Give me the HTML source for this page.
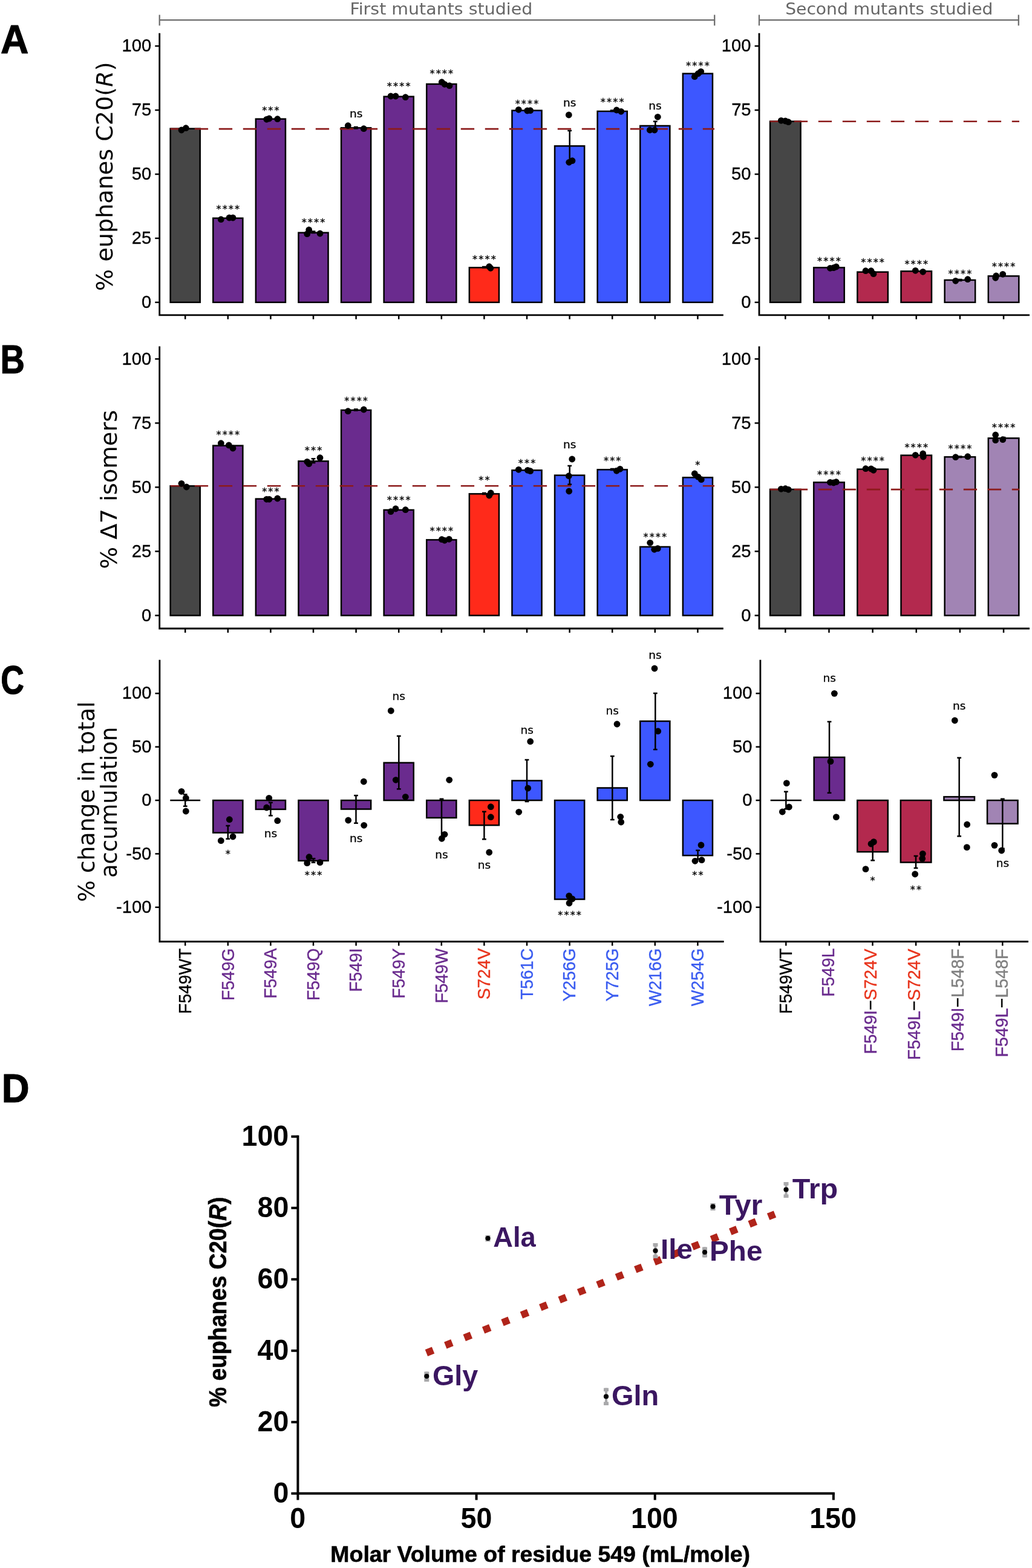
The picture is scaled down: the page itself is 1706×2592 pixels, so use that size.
<!DOCTYPE html>
<html lang="en"><head><meta charset="utf-8"><title>Figure: mutant product profiles</title>
<style>
html,body{margin:0;padding:0;background:#fff;}
body{width:1706px;height:2592px;overflow:hidden;}
svg{display:block;}
text{white-space:pre;}
</style></head>
<body>
<svg width="1706" height="2592" viewBox="0 0 1706 2592">
<rect x="0" y="0" width="1706" height="2592" fill="#fff"/>
<line x1="263.7" y1="33.2" x2="1181.2" y2="33.2" stroke="#6e6e6e" stroke-width="2.3"/>
<line x1="263.7" y1="24.5" x2="263.7" y2="42.3" stroke="#6e6e6e" stroke-width="2.3"/>
<line x1="1181.2" y1="24.5" x2="1181.2" y2="42.3" stroke="#6e6e6e" stroke-width="2.3"/>
<line x1="1255" y1="33.2" x2="1683.8" y2="33.2" stroke="#6e6e6e" stroke-width="2.3"/>
<line x1="1255" y1="24.5" x2="1255" y2="42.3" stroke="#6e6e6e" stroke-width="2.3"/>
<line x1="1683.8" y1="24.5" x2="1683.8" y2="42.3" stroke="#6e6e6e" stroke-width="2.3"/>
<text transform="translate(578.43 24.2) scale(1.0386 1)" font-family='"DejaVu Sans", sans-serif' font-size="27.4" fill="#666">First mutants studied</text>
<text transform="translate(1298.17 24.2) scale(1.0285 1)" font-family='"DejaVu Sans", sans-serif' font-size="27.4" fill="#666">Second mutants studied</text>
<rect x="281.65" y="212.65" width="49.1" height="287.15" fill="#464646" stroke="#000" stroke-width="2.5"/>
<rect x="352.25" y="360.65" width="49.1" height="139.15" fill="#6a2b8e" stroke="#000" stroke-width="2.5"/>
<rect x="422.85" y="196.65" width="49.1" height="303.15" fill="#6a2b8e" stroke="#000" stroke-width="2.5"/>
<rect x="493.45" y="384.65" width="49.1" height="115.15" fill="#6a2b8e" stroke="#000" stroke-width="2.5"/>
<rect x="564.05" y="211.35" width="49.1" height="288.45" fill="#6a2b8e" stroke="#000" stroke-width="2.5"/>
<rect x="634.65" y="159.65" width="49.1" height="340.15" fill="#6a2b8e" stroke="#000" stroke-width="2.5"/>
<rect x="705.25" y="138.95" width="49.1" height="360.85" fill="#6a2b8e" stroke="#000" stroke-width="2.5"/>
<rect x="775.85" y="442.35" width="49.1" height="57.45" fill="#ff2a1a" stroke="#000" stroke-width="2.5"/>
<rect x="846.45" y="182.65" width="49.1" height="317.15" fill="#3d57ff" stroke="#000" stroke-width="2.5"/>
<rect x="917.05" y="241.35" width="49.1" height="258.45" fill="#3d57ff" stroke="#000" stroke-width="2.5"/>
<rect x="987.65" y="183.95" width="49.1" height="315.85" fill="#3d57ff" stroke="#000" stroke-width="2.5"/>
<rect x="1058.25" y="207.95" width="49.1" height="291.85" fill="#3d57ff" stroke="#000" stroke-width="2.5"/>
<rect x="1128.85" y="121.65" width="49.1" height="378.15" fill="#3d57ff" stroke="#000" stroke-width="2.5"/>
<line x1="281.8" y1="213.1" x2="1181" y2="213.1" stroke="#8c1b1b" stroke-width="2.6" stroke-dasharray="22.3 17.7"/>
<line x1="941.7" y1="216" x2="941.7" y2="266" stroke="#000" stroke-width="2.5"/>
<line x1="938.3" y1="216" x2="945.1" y2="216" stroke="#000" stroke-width="2.5"/>
<line x1="938.3" y1="266" x2="945.1" y2="266" stroke="#000" stroke-width="2.5"/>
<line x1="1083.3" y1="200.7" x2="1083.3" y2="214" stroke="#000" stroke-width="2.5"/>
<line x1="1079.9" y1="200.7" x2="1086.7" y2="200.7" stroke="#000" stroke-width="2.5"/>
<line x1="1079.9" y1="214" x2="1086.7" y2="214" stroke="#000" stroke-width="2.5"/>
<line x1="588.3" y1="210" x2="588.3" y2="212.4" stroke="#000" stroke-width="2.5"/>
<line x1="584.9" y1="210" x2="591.7" y2="210" stroke="#000" stroke-width="2.5"/>
<line x1="584.9" y1="212.4" x2="591.7" y2="212.4" stroke="#000" stroke-width="2.5"/>
<line x1="518" y1="382.5" x2="518" y2="385" stroke="#000" stroke-width="2.5"/>
<line x1="514.6" y1="382.5" x2="521.4" y2="382.5" stroke="#000" stroke-width="2.5"/>
<line x1="514.6" y1="385" x2="521.4" y2="385" stroke="#000" stroke-width="2.5"/>
<line x1="800.4" y1="441" x2="800.4" y2="442.5" stroke="#000" stroke-width="2.5"/>
<line x1="797" y1="441" x2="803.8" y2="441" stroke="#000" stroke-width="2.5"/>
<line x1="797" y1="442.5" x2="803.8" y2="442.5" stroke="#000" stroke-width="2.5"/>
<line x1="1012.2" y1="182.5" x2="1012.2" y2="184" stroke="#000" stroke-width="2.5"/>
<line x1="1008.8" y1="182.5" x2="1015.6" y2="182.5" stroke="#000" stroke-width="2.5"/>
<line x1="1008.8" y1="184" x2="1015.6" y2="184" stroke="#000" stroke-width="2.5"/>
<circle cx="300" cy="215" r="5.4" fill="#000"/>
<circle cx="307.3" cy="211.7" r="5.4" fill="#000"/>
<circle cx="365.3" cy="362.7" r="5.4" fill="#000"/>
<circle cx="379" cy="360" r="5.4" fill="#000"/>
<circle cx="385" cy="360" r="5.4" fill="#000"/>
<circle cx="440.7" cy="197.3" r="5.4" fill="#000"/>
<circle cx="445" cy="196" r="5.4" fill="#000"/>
<circle cx="458.7" cy="196.7" r="5.4" fill="#000"/>
<circle cx="507.7" cy="386.7" r="5.4" fill="#000"/>
<circle cx="510.7" cy="380" r="5.4" fill="#000"/>
<circle cx="529" cy="386" r="5.4" fill="#000"/>
<circle cx="575.3" cy="207.7" r="5.4" fill="#000"/>
<circle cx="601.3" cy="212.7" r="5.4" fill="#000"/>
<circle cx="646" cy="159" r="5.4" fill="#000"/>
<circle cx="654" cy="159" r="5.4" fill="#000"/>
<circle cx="670.3" cy="160.7" r="5.4" fill="#000"/>
<circle cx="730.3" cy="135.7" r="5.4" fill="#000"/>
<circle cx="735" cy="139.3" r="5.4" fill="#000"/>
<circle cx="743" cy="141.7" r="5.4" fill="#000"/>
<circle cx="808.7" cy="440.7" r="5.4" fill="#000"/>
<circle cx="811" cy="443.3" r="5.4" fill="#000"/>
<circle cx="857.3" cy="181.3" r="5.4" fill="#000"/>
<circle cx="871.7" cy="183" r="5.4" fill="#000"/>
<circle cx="876.7" cy="182.7" r="5.4" fill="#000"/>
<circle cx="940.3" cy="190" r="5.4" fill="#000"/>
<circle cx="940.7" cy="268.3" r="5.4" fill="#000"/>
<circle cx="946" cy="265.7" r="5.4" fill="#000"/>
<circle cx="1019.3" cy="182" r="5.4" fill="#000"/>
<circle cx="1026.7" cy="184.3" r="5.4" fill="#000"/>
<circle cx="1074.3" cy="215" r="5.4" fill="#000"/>
<circle cx="1082" cy="215" r="5.4" fill="#000"/>
<circle cx="1087.3" cy="193.3" r="5.4" fill="#000"/>
<circle cx="1148.3" cy="126.7" r="5.4" fill="#000"/>
<circle cx="1154" cy="121.7" r="5.4" fill="#000"/>
<circle cx="1158.7" cy="118.3" r="5.4" fill="#000"/>
<text x="357.45 367.65 377.85 388.05" y="351.04" font-family='"DejaVu Sans", sans-serif' font-size="16.2" fill="#000" stroke="#000" stroke-width="0.35">****</text>
<text x="433.15 443.35 453.55" y="188.34" font-family='"DejaVu Sans", sans-serif' font-size="16.2" fill="#000" stroke="#000" stroke-width="0.35">***</text>
<text x="498.65 508.85 519.05 529.25" y="373.34" font-family='"DejaVu Sans", sans-serif' font-size="16.2" fill="#000" stroke="#000" stroke-width="0.35">****</text>
<text transform="translate(578.02 194.3) scale(1.0000 1)" font-family='"DejaVu Sans", sans-serif' font-size="18.5" fill="#000" stroke="#000" stroke-width="0.3">ns</text>
<text x="639.85 650.05 660.25 670.45" y="148.34" font-family='"DejaVu Sans", sans-serif' font-size="16.2" fill="#000" stroke="#000" stroke-width="0.35">****</text>
<text x="710.45 720.65 730.85 741.05" y="127.34" font-family='"DejaVu Sans", sans-serif' font-size="16.2" fill="#000" stroke="#000" stroke-width="0.35">****</text>
<text x="781.05 791.25 801.45 811.65" y="434.04" font-family='"DejaVu Sans", sans-serif' font-size="16.2" fill="#000" stroke="#000" stroke-width="0.35">****</text>
<text x="851.65 861.85 872.05 882.25" y="176.64" font-family='"DejaVu Sans", sans-serif' font-size="16.2" fill="#000" stroke="#000" stroke-width="0.35">****</text>
<text transform="translate(931.02 176) scale(1.0000 1)" font-family='"DejaVu Sans", sans-serif' font-size="18.5" fill="#000" stroke="#000" stroke-width="0.3">ns</text>
<text x="992.85 1003.05 1013.25 1023.45" y="174.04" font-family='"DejaVu Sans", sans-serif' font-size="16.2" fill="#000" stroke="#000" stroke-width="0.35">****</text>
<text transform="translate(1072.22 181) scale(1.0000 1)" font-family='"DejaVu Sans", sans-serif' font-size="18.5" fill="#000" stroke="#000" stroke-width="0.3">ns</text>
<text x="1134.05 1144.25 1154.45 1164.65" y="113.64" font-family='"DejaVu Sans", sans-serif' font-size="16.2" fill="#000" stroke="#000" stroke-width="0.35">****</text>
<polyline points="263.7,54.8 263.7,520.8 1195.8,520.8" fill="none" stroke="#000" stroke-width="2.8" stroke-linejoin="miter"/>
<line x1="256.3" y1="76.1" x2="263.7" y2="76.1" stroke="#000" stroke-width="2.5"/>
<text transform="translate(201.57 85.3) scale(1.0000 1)" font-family='"Liberation Sans", sans-serif' font-size="29.1" fill="#000" stroke="#000" stroke-width="0.35">100</text>
<line x1="256.3" y1="182.02" x2="263.7" y2="182.02" stroke="#000" stroke-width="2.5"/>
<text transform="translate(217.86 191.23) scale(1.0000 1)" font-family='"Liberation Sans", sans-serif' font-size="29.1" fill="#000" stroke="#000" stroke-width="0.35">75</text>
<line x1="256.3" y1="287.95" x2="263.7" y2="287.95" stroke="#000" stroke-width="2.5"/>
<text transform="translate(217.79 297.15) scale(1.0000 1)" font-family='"Liberation Sans", sans-serif' font-size="29.1" fill="#000" stroke="#000" stroke-width="0.35">50</text>
<line x1="256.3" y1="393.88" x2="263.7" y2="393.88" stroke="#000" stroke-width="2.5"/>
<text transform="translate(217.86 403.08) scale(1.0000 1)" font-family='"Liberation Sans", sans-serif' font-size="29.1" fill="#000" stroke="#000" stroke-width="0.35">25</text>
<line x1="256.3" y1="499.8" x2="263.7" y2="499.8" stroke="#000" stroke-width="2.5"/>
<text transform="translate(233.94 509) scale(1.0000 1)" font-family='"Liberation Sans", sans-serif' font-size="29.1" fill="#000" stroke="#000" stroke-width="0.35">0</text>
<line x1="306.2" y1="520.8" x2="306.2" y2="527.7" stroke="#000" stroke-width="2.5"/>
<line x1="376.8" y1="520.8" x2="376.8" y2="527.7" stroke="#000" stroke-width="2.5"/>
<line x1="447.4" y1="520.8" x2="447.4" y2="527.7" stroke="#000" stroke-width="2.5"/>
<line x1="518" y1="520.8" x2="518" y2="527.7" stroke="#000" stroke-width="2.5"/>
<line x1="588.6" y1="520.8" x2="588.6" y2="527.7" stroke="#000" stroke-width="2.5"/>
<line x1="659.2" y1="520.8" x2="659.2" y2="527.7" stroke="#000" stroke-width="2.5"/>
<line x1="729.8" y1="520.8" x2="729.8" y2="527.7" stroke="#000" stroke-width="2.5"/>
<line x1="800.4" y1="520.8" x2="800.4" y2="527.7" stroke="#000" stroke-width="2.5"/>
<line x1="871" y1="520.8" x2="871" y2="527.7" stroke="#000" stroke-width="2.5"/>
<line x1="941.6" y1="520.8" x2="941.6" y2="527.7" stroke="#000" stroke-width="2.5"/>
<line x1="1012.2" y1="520.8" x2="1012.2" y2="527.7" stroke="#000" stroke-width="2.5"/>
<line x1="1082.8" y1="520.8" x2="1082.8" y2="527.7" stroke="#000" stroke-width="2.5"/>
<line x1="1153.4" y1="520.8" x2="1153.4" y2="527.7" stroke="#000" stroke-width="2.5"/>
<rect x="1273.05" y="200.65" width="50.5" height="299.15" fill="#464646" stroke="#000" stroke-width="2.5"/>
<rect x="1345.2" y="442.35" width="50.5" height="57.45" fill="#6a2b8e" stroke="#000" stroke-width="2.5"/>
<rect x="1417.35" y="449.65" width="50.5" height="50.15" fill="#b3294e" stroke="#000" stroke-width="2.5"/>
<rect x="1489.5" y="448.35" width="50.5" height="51.45" fill="#b3294e" stroke="#000" stroke-width="2.5"/>
<rect x="1561.65" y="462.95" width="50.5" height="36.85" fill="#a184b4" stroke="#000" stroke-width="2.5"/>
<rect x="1633.8" y="456.35" width="50.5" height="43.45" fill="#a184b4" stroke="#000" stroke-width="2.5"/>
<line x1="1272.8" y1="200.8" x2="1685" y2="200.8" stroke="#8c1b1b" stroke-width="2.6" stroke-dasharray="22.3 17.7"/>
<line x1="1587.1" y1="462" x2="1587.1" y2="464" stroke="#000" stroke-width="2.5"/>
<line x1="1583.7" y1="462" x2="1590.5" y2="462" stroke="#000" stroke-width="2.5"/>
<line x1="1583.7" y1="464" x2="1590.5" y2="464" stroke="#000" stroke-width="2.5"/>
<circle cx="1291.3" cy="199.3" r="5.4" fill="#000"/>
<circle cx="1298.3" cy="200" r="5.4" fill="#000"/>
<circle cx="1303.3" cy="201.7" r="5.4" fill="#000"/>
<circle cx="1372.3" cy="443.3" r="5.4" fill="#000"/>
<circle cx="1378" cy="442.7" r="5.4" fill="#000"/>
<circle cx="1382.3" cy="441" r="5.4" fill="#000"/>
<circle cx="1431" cy="447.7" r="5.4" fill="#000"/>
<circle cx="1440" cy="447.7" r="5.4" fill="#000"/>
<circle cx="1444" cy="452.7" r="5.4" fill="#000"/>
<circle cx="1513.3" cy="447.3" r="5.4" fill="#000"/>
<circle cx="1525.7" cy="449.3" r="5.4" fill="#000"/>
<circle cx="1579.7" cy="464.3" r="5.4" fill="#000"/>
<circle cx="1599.7" cy="461.7" r="5.4" fill="#000"/>
<circle cx="1645.7" cy="459.3" r="5.4" fill="#000"/>
<circle cx="1646.7" cy="456" r="5.4" fill="#000"/>
<circle cx="1657.7" cy="453.3" r="5.4" fill="#000"/>
<text x="1351.1 1361.3 1371.5 1381.7" y="436.64" font-family='"DejaVu Sans", sans-serif' font-size="16.2" fill="#000" stroke="#000" stroke-width="0.35">****</text>
<text x="1423.25 1433.45 1443.65 1453.85" y="439.34" font-family='"DejaVu Sans", sans-serif' font-size="16.2" fill="#000" stroke="#000" stroke-width="0.35">****</text>
<text x="1495.4 1505.6 1515.8 1526" y="441.64" font-family='"DejaVu Sans", sans-serif' font-size="16.2" fill="#000" stroke="#000" stroke-width="0.35">****</text>
<text x="1567.55 1577.75 1587.95 1598.15" y="457.64" font-family='"DejaVu Sans", sans-serif' font-size="16.2" fill="#000" stroke="#000" stroke-width="0.35">****</text>
<text x="1639.7 1649.9 1660.1 1670.3" y="446.04" font-family='"DejaVu Sans", sans-serif' font-size="16.2" fill="#000" stroke="#000" stroke-width="0.35">****</text>
<polyline points="1255,54.8 1255,520.8 1702,520.8" fill="none" stroke="#000" stroke-width="2.8" stroke-linejoin="miter"/>
<line x1="1247.6" y1="76.1" x2="1255" y2="76.1" stroke="#000" stroke-width="2.5"/>
<text transform="translate(1192.87 85.3) scale(1.0000 1)" font-family='"Liberation Sans", sans-serif' font-size="29.1" fill="#000" stroke="#000" stroke-width="0.35">100</text>
<line x1="1247.6" y1="182.02" x2="1255" y2="182.02" stroke="#000" stroke-width="2.5"/>
<text transform="translate(1209.16 191.23) scale(1.0000 1)" font-family='"Liberation Sans", sans-serif' font-size="29.1" fill="#000" stroke="#000" stroke-width="0.35">75</text>
<line x1="1247.6" y1="287.95" x2="1255" y2="287.95" stroke="#000" stroke-width="2.5"/>
<text transform="translate(1209.09 297.15) scale(1.0000 1)" font-family='"Liberation Sans", sans-serif' font-size="29.1" fill="#000" stroke="#000" stroke-width="0.35">50</text>
<line x1="1247.6" y1="393.88" x2="1255" y2="393.88" stroke="#000" stroke-width="2.5"/>
<text transform="translate(1209.16 403.08) scale(1.0000 1)" font-family='"Liberation Sans", sans-serif' font-size="29.1" fill="#000" stroke="#000" stroke-width="0.35">25</text>
<line x1="1247.6" y1="499.8" x2="1255" y2="499.8" stroke="#000" stroke-width="2.5"/>
<text transform="translate(1225.24 509) scale(1.0000 1)" font-family='"Liberation Sans", sans-serif' font-size="29.1" fill="#000" stroke="#000" stroke-width="0.35">0</text>
<line x1="1298.3" y1="520.8" x2="1298.3" y2="527.7" stroke="#000" stroke-width="2.5"/>
<line x1="1370.45" y1="520.8" x2="1370.45" y2="527.7" stroke="#000" stroke-width="2.5"/>
<line x1="1442.6" y1="520.8" x2="1442.6" y2="527.7" stroke="#000" stroke-width="2.5"/>
<line x1="1514.75" y1="520.8" x2="1514.75" y2="527.7" stroke="#000" stroke-width="2.5"/>
<line x1="1586.9" y1="520.8" x2="1586.9" y2="527.7" stroke="#000" stroke-width="2.5"/>
<line x1="1659.05" y1="520.8" x2="1659.05" y2="527.7" stroke="#000" stroke-width="2.5"/>
<rect x="281.65" y="803.35" width="49.1" height="214.05" fill="#464646" stroke="#000" stroke-width="2.5"/>
<rect x="352.25" y="736.65" width="49.1" height="280.75" fill="#6a2b8e" stroke="#000" stroke-width="2.5"/>
<rect x="422.85" y="824.65" width="49.1" height="192.75" fill="#6a2b8e" stroke="#000" stroke-width="2.5"/>
<rect x="493.45" y="762.35" width="49.1" height="255.05" fill="#6a2b8e" stroke="#000" stroke-width="2.5"/>
<rect x="564.05" y="677.95" width="49.1" height="339.45" fill="#6a2b8e" stroke="#000" stroke-width="2.5"/>
<rect x="634.65" y="842.95" width="49.1" height="174.45" fill="#6a2b8e" stroke="#000" stroke-width="2.5"/>
<rect x="705.25" y="892.35" width="49.1" height="125.05" fill="#6a2b8e" stroke="#000" stroke-width="2.5"/>
<rect x="775.85" y="816.35" width="49.1" height="201.05" fill="#ff2a1a" stroke="#000" stroke-width="2.5"/>
<rect x="846.45" y="777.35" width="49.1" height="240.05" fill="#3d57ff" stroke="#000" stroke-width="2.5"/>
<rect x="917.05" y="785.65" width="49.1" height="231.75" fill="#3d57ff" stroke="#000" stroke-width="2.5"/>
<rect x="987.65" y="776.35" width="49.1" height="241.05" fill="#3d57ff" stroke="#000" stroke-width="2.5"/>
<rect x="1058.25" y="903.95" width="49.1" height="113.45" fill="#3d57ff" stroke="#000" stroke-width="2.5"/>
<rect x="1128.85" y="789.35" width="49.1" height="228.05" fill="#3d57ff" stroke="#000" stroke-width="2.5"/>
<line x1="281.8" y1="803.2" x2="1181" y2="803.2" stroke="#8c1b1b" stroke-width="2.6" stroke-dasharray="22.3 17.7"/>
<line x1="941.7" y1="770" x2="941.7" y2="800.7" stroke="#000" stroke-width="2.5"/>
<line x1="938.3" y1="770" x2="945.1" y2="770" stroke="#000" stroke-width="2.5"/>
<line x1="938.3" y1="800.7" x2="945.1" y2="800.7" stroke="#000" stroke-width="2.5"/>
<line x1="518" y1="758.3" x2="518" y2="765" stroke="#000" stroke-width="2.5"/>
<line x1="514.6" y1="758.3" x2="521.4" y2="758.3" stroke="#000" stroke-width="2.5"/>
<line x1="514.6" y1="765" x2="521.4" y2="765" stroke="#000" stroke-width="2.5"/>
<line x1="588.3" y1="676.5" x2="588.3" y2="678.5" stroke="#000" stroke-width="2.5"/>
<line x1="584.9" y1="676.5" x2="591.7" y2="676.5" stroke="#000" stroke-width="2.5"/>
<line x1="584.9" y1="678.5" x2="591.7" y2="678.5" stroke="#000" stroke-width="2.5"/>
<line x1="800.4" y1="815" x2="800.4" y2="817" stroke="#000" stroke-width="2.5"/>
<line x1="797" y1="815" x2="803.8" y2="815" stroke="#000" stroke-width="2.5"/>
<line x1="797" y1="817" x2="803.8" y2="817" stroke="#000" stroke-width="2.5"/>
<line x1="1012.2" y1="775" x2="1012.2" y2="777" stroke="#000" stroke-width="2.5"/>
<line x1="1008.8" y1="775" x2="1015.6" y2="775" stroke="#000" stroke-width="2.5"/>
<line x1="1008.8" y1="777" x2="1015.6" y2="777" stroke="#000" stroke-width="2.5"/>
<line x1="1153.4" y1="786" x2="1153.4" y2="791" stroke="#000" stroke-width="2.5"/>
<line x1="1150" y1="786" x2="1156.8" y2="786" stroke="#000" stroke-width="2.5"/>
<line x1="1150" y1="791" x2="1156.8" y2="791" stroke="#000" stroke-width="2.5"/>
<circle cx="300" cy="799.3" r="5.4" fill="#000"/>
<circle cx="308.3" cy="805" r="5.4" fill="#000"/>
<circle cx="365.3" cy="732.7" r="5.4" fill="#000"/>
<circle cx="378.3" cy="736" r="5.4" fill="#000"/>
<circle cx="385" cy="741" r="5.4" fill="#000"/>
<circle cx="440.7" cy="825.3" r="5.4" fill="#000"/>
<circle cx="445" cy="825.3" r="5.4" fill="#000"/>
<circle cx="458.7" cy="824" r="5.4" fill="#000"/>
<circle cx="507.7" cy="763.3" r="5.4" fill="#000"/>
<circle cx="510.7" cy="766.7" r="5.4" fill="#000"/>
<circle cx="529" cy="756.7" r="5.4" fill="#000"/>
<circle cx="575.3" cy="679.7" r="5.4" fill="#000"/>
<circle cx="601.3" cy="677" r="5.4" fill="#000"/>
<circle cx="646" cy="845.7" r="5.4" fill="#000"/>
<circle cx="654" cy="841" r="5.4" fill="#000"/>
<circle cx="670.3" cy="842.7" r="5.4" fill="#000"/>
<circle cx="730.3" cy="891.7" r="5.4" fill="#000"/>
<circle cx="735" cy="893.3" r="5.4" fill="#000"/>
<circle cx="742.3" cy="891.3" r="5.4" fill="#000"/>
<circle cx="808.7" cy="819" r="5.4" fill="#000"/>
<circle cx="811.3" cy="815" r="5.4" fill="#000"/>
<circle cx="857.3" cy="776.3" r="5.4" fill="#000"/>
<circle cx="872.3" cy="777.3" r="5.4" fill="#000"/>
<circle cx="876.7" cy="778.7" r="5.4" fill="#000"/>
<circle cx="945.7" cy="759" r="5.4" fill="#000"/>
<circle cx="940.3" cy="786.7" r="5.4" fill="#000"/>
<circle cx="940.7" cy="812" r="5.4" fill="#000"/>
<circle cx="1019.3" cy="778.3" r="5.4" fill="#000"/>
<circle cx="1025" cy="775.3" r="5.4" fill="#000"/>
<circle cx="1074.7" cy="897.3" r="5.4" fill="#000"/>
<circle cx="1081.7" cy="908.3" r="5.4" fill="#000"/>
<circle cx="1087.3" cy="906.7" r="5.4" fill="#000"/>
<circle cx="1148.3" cy="783" r="5.4" fill="#000"/>
<circle cx="1154" cy="788.3" r="5.4" fill="#000"/>
<circle cx="1159.3" cy="792.7" r="5.4" fill="#000"/>
<text x="357.45 367.65 377.85 388.05" y="724.34" font-family='"DejaVu Sans", sans-serif' font-size="16.2" fill="#000" stroke="#000" stroke-width="0.35">****</text>
<text x="433.15 443.35 453.55" y="818.34" font-family='"DejaVu Sans", sans-serif' font-size="16.2" fill="#000" stroke="#000" stroke-width="0.35">***</text>
<text x="503.75 513.95 524.15" y="750.04" font-family='"DejaVu Sans", sans-serif' font-size="16.2" fill="#000" stroke="#000" stroke-width="0.35">***</text>
<text x="569.25 579.45 589.65 599.85" y="668.34" font-family='"DejaVu Sans", sans-serif' font-size="16.2" fill="#000" stroke="#000" stroke-width="0.35">****</text>
<text x="639.85 650.05 660.25 670.45" y="832.34" font-family='"DejaVu Sans", sans-serif' font-size="16.2" fill="#000" stroke="#000" stroke-width="0.35">****</text>
<text x="710.45 720.65 730.85 741.05" y="883.34" font-family='"DejaVu Sans", sans-serif' font-size="16.2" fill="#000" stroke="#000" stroke-width="0.35">****</text>
<text x="791.25 801.45" y="799.34" font-family='"DejaVu Sans", sans-serif' font-size="16.2" fill="#000" stroke="#000" stroke-width="0.35">**</text>
<text x="856.75 866.95 877.15" y="771.04" font-family='"DejaVu Sans", sans-serif' font-size="16.2" fill="#000" stroke="#000" stroke-width="0.35">***</text>
<text transform="translate(931.02 741) scale(1.0000 1)" font-family='"DejaVu Sans", sans-serif' font-size="18.5" fill="#000" stroke="#000" stroke-width="0.3">ns</text>
<text x="997.95 1008.15 1018.35" y="767.34" font-family='"DejaVu Sans", sans-serif' font-size="16.2" fill="#000" stroke="#000" stroke-width="0.35">***</text>
<text x="1063.45 1073.65 1083.85 1094.05" y="893.34" font-family='"DejaVu Sans", sans-serif' font-size="16.2" fill="#000" stroke="#000" stroke-width="0.35">****</text>
<text x="1149.35" y="774.34" font-family='"DejaVu Sans", sans-serif' font-size="16.2" fill="#000" stroke="#000" stroke-width="0.35">*</text>
<polyline points="263.7,572.6 263.7,1039 1195.8,1039" fill="none" stroke="#000" stroke-width="2.8" stroke-linejoin="miter"/>
<line x1="256.3" y1="593.4" x2="263.7" y2="593.4" stroke="#000" stroke-width="2.5"/>
<text transform="translate(201.57 602.6) scale(1.0000 1)" font-family='"Liberation Sans", sans-serif' font-size="29.1" fill="#000" stroke="#000" stroke-width="0.35">100</text>
<line x1="256.3" y1="699.4" x2="263.7" y2="699.4" stroke="#000" stroke-width="2.5"/>
<text transform="translate(217.86 708.6) scale(1.0000 1)" font-family='"Liberation Sans", sans-serif' font-size="29.1" fill="#000" stroke="#000" stroke-width="0.35">75</text>
<line x1="256.3" y1="805.4" x2="263.7" y2="805.4" stroke="#000" stroke-width="2.5"/>
<text transform="translate(217.79 814.6) scale(1.0000 1)" font-family='"Liberation Sans", sans-serif' font-size="29.1" fill="#000" stroke="#000" stroke-width="0.35">50</text>
<line x1="256.3" y1="911.4" x2="263.7" y2="911.4" stroke="#000" stroke-width="2.5"/>
<text transform="translate(217.86 920.6) scale(1.0000 1)" font-family='"Liberation Sans", sans-serif' font-size="29.1" fill="#000" stroke="#000" stroke-width="0.35">25</text>
<line x1="256.3" y1="1017.4" x2="263.7" y2="1017.4" stroke="#000" stroke-width="2.5"/>
<text transform="translate(233.94 1026.6) scale(1.0000 1)" font-family='"Liberation Sans", sans-serif' font-size="29.1" fill="#000" stroke="#000" stroke-width="0.35">0</text>
<line x1="306.2" y1="1039" x2="306.2" y2="1045.9" stroke="#000" stroke-width="2.5"/>
<line x1="376.8" y1="1039" x2="376.8" y2="1045.9" stroke="#000" stroke-width="2.5"/>
<line x1="447.4" y1="1039" x2="447.4" y2="1045.9" stroke="#000" stroke-width="2.5"/>
<line x1="518" y1="1039" x2="518" y2="1045.9" stroke="#000" stroke-width="2.5"/>
<line x1="588.6" y1="1039" x2="588.6" y2="1045.9" stroke="#000" stroke-width="2.5"/>
<line x1="659.2" y1="1039" x2="659.2" y2="1045.9" stroke="#000" stroke-width="2.5"/>
<line x1="729.8" y1="1039" x2="729.8" y2="1045.9" stroke="#000" stroke-width="2.5"/>
<line x1="800.4" y1="1039" x2="800.4" y2="1045.9" stroke="#000" stroke-width="2.5"/>
<line x1="871" y1="1039" x2="871" y2="1045.9" stroke="#000" stroke-width="2.5"/>
<line x1="941.6" y1="1039" x2="941.6" y2="1045.9" stroke="#000" stroke-width="2.5"/>
<line x1="1012.2" y1="1039" x2="1012.2" y2="1045.9" stroke="#000" stroke-width="2.5"/>
<line x1="1082.8" y1="1039" x2="1082.8" y2="1045.9" stroke="#000" stroke-width="2.5"/>
<line x1="1153.4" y1="1039" x2="1153.4" y2="1045.9" stroke="#000" stroke-width="2.5"/>
<rect x="1273.05" y="808.95" width="50.5" height="208.45" fill="#464646" stroke="#000" stroke-width="2.5"/>
<rect x="1345.2" y="797.35" width="50.5" height="220.05" fill="#6a2b8e" stroke="#000" stroke-width="2.5"/>
<rect x="1417.35" y="775.65" width="50.5" height="241.75" fill="#b3294e" stroke="#000" stroke-width="2.5"/>
<rect x="1489.5" y="752.65" width="50.5" height="264.75" fill="#b3294e" stroke="#000" stroke-width="2.5"/>
<rect x="1561.65" y="755.35" width="50.5" height="262.05" fill="#a184b4" stroke="#000" stroke-width="2.5"/>
<rect x="1633.8" y="724.35" width="50.5" height="293.05" fill="#a184b4" stroke="#000" stroke-width="2.5"/>
<line x1="1272.8" y1="809.1" x2="1685" y2="809.1" stroke="#8c1b1b" stroke-width="2.6" stroke-dasharray="22.3 17.7"/>
<line x1="1587.1" y1="754.5" x2="1587.1" y2="756" stroke="#000" stroke-width="2.5"/>
<line x1="1583.7" y1="754.5" x2="1590.5" y2="754.5" stroke="#000" stroke-width="2.5"/>
<line x1="1583.7" y1="756" x2="1590.5" y2="756" stroke="#000" stroke-width="2.5"/>
<line x1="1659" y1="723" x2="1659" y2="727" stroke="#000" stroke-width="2.5"/>
<line x1="1655.6" y1="723" x2="1662.4" y2="723" stroke="#000" stroke-width="2.5"/>
<line x1="1655.6" y1="727" x2="1662.4" y2="727" stroke="#000" stroke-width="2.5"/>
<circle cx="1291.3" cy="808.3" r="5.4" fill="#000"/>
<circle cx="1298.3" cy="807.7" r="5.4" fill="#000"/>
<circle cx="1303.3" cy="809.3" r="5.4" fill="#000"/>
<circle cx="1372.3" cy="797.3" r="5.4" fill="#000"/>
<circle cx="1378" cy="798" r="5.4" fill="#000"/>
<circle cx="1382.3" cy="796.7" r="5.4" fill="#000"/>
<circle cx="1431" cy="774.7" r="5.4" fill="#000"/>
<circle cx="1440" cy="775" r="5.4" fill="#000"/>
<circle cx="1444" cy="777.3" r="5.4" fill="#000"/>
<circle cx="1513.3" cy="752.3" r="5.4" fill="#000"/>
<circle cx="1525.7" cy="750" r="5.4" fill="#000"/>
<circle cx="1526.3" cy="755" r="5.4" fill="#000"/>
<circle cx="1579.7" cy="755.7" r="5.4" fill="#000"/>
<circle cx="1599.7" cy="754.7" r="5.4" fill="#000"/>
<circle cx="1645.7" cy="719" r="5.4" fill="#000"/>
<circle cx="1645.7" cy="727.7" r="5.4" fill="#000"/>
<circle cx="1657.7" cy="726.7" r="5.4" fill="#000"/>
<text x="1351.1 1361.3 1371.5 1381.7" y="790.04" font-family='"DejaVu Sans", sans-serif' font-size="16.2" fill="#000" stroke="#000" stroke-width="0.35">****</text>
<text x="1423.25 1433.45 1443.65 1453.85" y="767.34" font-family='"DejaVu Sans", sans-serif' font-size="16.2" fill="#000" stroke="#000" stroke-width="0.35">****</text>
<text x="1495.4 1505.6 1515.8 1526" y="745.04" font-family='"DejaVu Sans", sans-serif' font-size="16.2" fill="#000" stroke="#000" stroke-width="0.35">****</text>
<text x="1567.55 1577.75 1587.95 1598.15" y="747.34" font-family='"DejaVu Sans", sans-serif' font-size="16.2" fill="#000" stroke="#000" stroke-width="0.35">****</text>
<text x="1639.7 1649.9 1660.1 1670.3" y="711.64" font-family='"DejaVu Sans", sans-serif' font-size="16.2" fill="#000" stroke="#000" stroke-width="0.35">****</text>
<polyline points="1255,572.6 1255,1039 1702,1039" fill="none" stroke="#000" stroke-width="2.8" stroke-linejoin="miter"/>
<line x1="1247.6" y1="593.4" x2="1255" y2="593.4" stroke="#000" stroke-width="2.5"/>
<text transform="translate(1192.87 602.6) scale(1.0000 1)" font-family='"Liberation Sans", sans-serif' font-size="29.1" fill="#000" stroke="#000" stroke-width="0.35">100</text>
<line x1="1247.6" y1="699.4" x2="1255" y2="699.4" stroke="#000" stroke-width="2.5"/>
<text transform="translate(1209.16 708.6) scale(1.0000 1)" font-family='"Liberation Sans", sans-serif' font-size="29.1" fill="#000" stroke="#000" stroke-width="0.35">75</text>
<line x1="1247.6" y1="805.4" x2="1255" y2="805.4" stroke="#000" stroke-width="2.5"/>
<text transform="translate(1209.09 814.6) scale(1.0000 1)" font-family='"Liberation Sans", sans-serif' font-size="29.1" fill="#000" stroke="#000" stroke-width="0.35">50</text>
<line x1="1247.6" y1="911.4" x2="1255" y2="911.4" stroke="#000" stroke-width="2.5"/>
<text transform="translate(1209.16 920.6) scale(1.0000 1)" font-family='"Liberation Sans", sans-serif' font-size="29.1" fill="#000" stroke="#000" stroke-width="0.35">25</text>
<line x1="1247.6" y1="1017.4" x2="1255" y2="1017.4" stroke="#000" stroke-width="2.5"/>
<text transform="translate(1225.24 1026.6) scale(1.0000 1)" font-family='"Liberation Sans", sans-serif' font-size="29.1" fill="#000" stroke="#000" stroke-width="0.35">0</text>
<line x1="1298.3" y1="1039" x2="1298.3" y2="1045.9" stroke="#000" stroke-width="2.5"/>
<line x1="1370.45" y1="1039" x2="1370.45" y2="1045.9" stroke="#000" stroke-width="2.5"/>
<line x1="1442.6" y1="1039" x2="1442.6" y2="1045.9" stroke="#000" stroke-width="2.5"/>
<line x1="1514.75" y1="1039" x2="1514.75" y2="1045.9" stroke="#000" stroke-width="2.5"/>
<line x1="1586.9" y1="1039" x2="1586.9" y2="1045.9" stroke="#000" stroke-width="2.5"/>
<line x1="1659.05" y1="1039" x2="1659.05" y2="1045.9" stroke="#000" stroke-width="2.5"/>
<line x1="281.25" y1="1323" x2="331.15" y2="1323" stroke="#000" stroke-width="2.5"/>
<rect x="352.25" y="1323" width="49.1" height="53.55" fill="#6a2b8e" stroke="#000" stroke-width="2.5"/>
<rect x="422.85" y="1323" width="49.1" height="14.85" fill="#6a2b8e" stroke="#000" stroke-width="2.5"/>
<rect x="493.45" y="1323" width="49.1" height="99.85" fill="#6a2b8e" stroke="#000" stroke-width="2.5"/>
<rect x="564.05" y="1323" width="49.1" height="14.55" fill="#6a2b8e" stroke="#000" stroke-width="2.5"/>
<rect x="634.65" y="1260.85" width="49.1" height="62.15" fill="#6a2b8e" stroke="#000" stroke-width="2.5"/>
<rect x="705.25" y="1323" width="49.1" height="28.85" fill="#6a2b8e" stroke="#000" stroke-width="2.5"/>
<rect x="775.85" y="1323" width="49.1" height="41.15" fill="#ff2a1a" stroke="#000" stroke-width="2.5"/>
<rect x="846.45" y="1290.45" width="49.1" height="32.55" fill="#3d57ff" stroke="#000" stroke-width="2.5"/>
<rect x="917.05" y="1323" width="49.1" height="163.55" fill="#3d57ff" stroke="#000" stroke-width="2.5"/>
<rect x="987.65" y="1302.45" width="49.1" height="20.55" fill="#3d57ff" stroke="#000" stroke-width="2.5"/>
<rect x="1058.25" y="1192.15" width="49.1" height="130.85" fill="#3d57ff" stroke="#000" stroke-width="2.5"/>
<rect x="1128.85" y="1323" width="49.1" height="91.15" fill="#3d57ff" stroke="#000" stroke-width="2.5"/>
<line x1="306.2" y1="1313.3" x2="306.2" y2="1332.7" stroke="#000" stroke-width="2.5"/>
<line x1="302.8" y1="1313.3" x2="309.6" y2="1313.3" stroke="#000" stroke-width="2.5"/>
<line x1="302.8" y1="1332.7" x2="309.6" y2="1332.7" stroke="#000" stroke-width="2.5"/>
<line x1="376.8" y1="1365" x2="376.8" y2="1386.7" stroke="#000" stroke-width="2.5"/>
<line x1="373.4" y1="1365" x2="380.2" y2="1365" stroke="#000" stroke-width="2.5"/>
<line x1="373.4" y1="1386.7" x2="380.2" y2="1386.7" stroke="#000" stroke-width="2.5"/>
<line x1="447.4" y1="1326.7" x2="447.4" y2="1348.3" stroke="#000" stroke-width="2.5"/>
<line x1="444" y1="1326.7" x2="450.8" y2="1326.7" stroke="#000" stroke-width="2.5"/>
<line x1="444" y1="1348.3" x2="450.8" y2="1348.3" stroke="#000" stroke-width="2.5"/>
<line x1="518" y1="1419.3" x2="518" y2="1425.7" stroke="#000" stroke-width="2.5"/>
<line x1="514.6" y1="1419.3" x2="521.4" y2="1419.3" stroke="#000" stroke-width="2.5"/>
<line x1="514.6" y1="1425.7" x2="521.4" y2="1425.7" stroke="#000" stroke-width="2.5"/>
<line x1="588.5" y1="1315" x2="588.5" y2="1360.7" stroke="#000" stroke-width="2.5"/>
<line x1="585.1" y1="1315" x2="591.9" y2="1315" stroke="#000" stroke-width="2.5"/>
<line x1="585.1" y1="1360.7" x2="591.9" y2="1360.7" stroke="#000" stroke-width="2.5"/>
<line x1="659.3" y1="1216.7" x2="659.3" y2="1304.3" stroke="#000" stroke-width="2.5"/>
<line x1="655.9" y1="1216.7" x2="662.7" y2="1216.7" stroke="#000" stroke-width="2.5"/>
<line x1="655.9" y1="1304.3" x2="662.7" y2="1304.3" stroke="#000" stroke-width="2.5"/>
<line x1="730" y1="1320.7" x2="730" y2="1383" stroke="#000" stroke-width="2.5"/>
<line x1="726.6" y1="1320.7" x2="733.4" y2="1320.7" stroke="#000" stroke-width="2.5"/>
<line x1="726.6" y1="1383" x2="733.4" y2="1383" stroke="#000" stroke-width="2.5"/>
<line x1="800.4" y1="1341.7" x2="800.4" y2="1387.3" stroke="#000" stroke-width="2.5"/>
<line x1="797" y1="1341.7" x2="803.8" y2="1341.7" stroke="#000" stroke-width="2.5"/>
<line x1="797" y1="1387.3" x2="803.8" y2="1387.3" stroke="#000" stroke-width="2.5"/>
<line x1="871" y1="1256" x2="871" y2="1325" stroke="#000" stroke-width="2.5"/>
<line x1="867.6" y1="1256" x2="874.4" y2="1256" stroke="#000" stroke-width="2.5"/>
<line x1="867.6" y1="1325" x2="874.4" y2="1325" stroke="#000" stroke-width="2.5"/>
<line x1="941.6" y1="1483" x2="941.6" y2="1489" stroke="#000" stroke-width="2.5"/>
<line x1="938.2" y1="1483" x2="945" y2="1483" stroke="#000" stroke-width="2.5"/>
<line x1="938.2" y1="1489" x2="945" y2="1489" stroke="#000" stroke-width="2.5"/>
<line x1="1012.3" y1="1250" x2="1012.3" y2="1355" stroke="#000" stroke-width="2.5"/>
<line x1="1008.9" y1="1250" x2="1015.7" y2="1250" stroke="#000" stroke-width="2.5"/>
<line x1="1008.9" y1="1355" x2="1015.7" y2="1355" stroke="#000" stroke-width="2.5"/>
<line x1="1083.3" y1="1146" x2="1083.3" y2="1239" stroke="#000" stroke-width="2.5"/>
<line x1="1079.9" y1="1146" x2="1086.7" y2="1146" stroke="#000" stroke-width="2.5"/>
<line x1="1079.9" y1="1239" x2="1086.7" y2="1239" stroke="#000" stroke-width="2.5"/>
<line x1="1153.6" y1="1405.7" x2="1153.6" y2="1420" stroke="#000" stroke-width="2.5"/>
<line x1="1150.2" y1="1405.7" x2="1157" y2="1405.7" stroke="#000" stroke-width="2.5"/>
<line x1="1150.2" y1="1420" x2="1157" y2="1420" stroke="#000" stroke-width="2.5"/>
<circle cx="300" cy="1308.3" r="5.4" fill="#000"/>
<circle cx="307.3" cy="1319.3" r="5.4" fill="#000"/>
<circle cx="307.3" cy="1341" r="5.4" fill="#000"/>
<circle cx="379.3" cy="1354.7" r="5.4" fill="#000"/>
<circle cx="385" cy="1383" r="5.4" fill="#000"/>
<circle cx="365.3" cy="1389.7" r="5.4" fill="#000"/>
<circle cx="444.7" cy="1319.3" r="5.4" fill="#000"/>
<circle cx="440.7" cy="1335" r="5.4" fill="#000"/>
<circle cx="458.7" cy="1356.7" r="5.4" fill="#000"/>
<circle cx="507.7" cy="1426.7" r="5.4" fill="#000"/>
<circle cx="511" cy="1416.7" r="5.4" fill="#000"/>
<circle cx="529" cy="1425.7" r="5.4" fill="#000"/>
<circle cx="601.3" cy="1292" r="5.4" fill="#000"/>
<circle cx="575.7" cy="1356" r="5.4" fill="#000"/>
<circle cx="601.7" cy="1364.3" r="5.4" fill="#000"/>
<circle cx="646.3" cy="1175" r="5.4" fill="#000"/>
<circle cx="654.3" cy="1289.3" r="5.4" fill="#000"/>
<circle cx="670.3" cy="1317.3" r="5.4" fill="#000"/>
<circle cx="742.7" cy="1289.3" r="5.4" fill="#000"/>
<circle cx="735" cy="1379.3" r="5.4" fill="#000"/>
<circle cx="730.3" cy="1386.3" r="5.4" fill="#000"/>
<circle cx="811.3" cy="1333.7" r="5.4" fill="#000"/>
<circle cx="811.3" cy="1350.7" r="5.4" fill="#000"/>
<circle cx="808.7" cy="1409" r="5.4" fill="#000"/>
<circle cx="876.7" cy="1225.7" r="5.4" fill="#000"/>
<circle cx="872.7" cy="1303" r="5.4" fill="#000"/>
<circle cx="857.7" cy="1342.3" r="5.4" fill="#000"/>
<circle cx="940.7" cy="1481" r="5.4" fill="#000"/>
<circle cx="946" cy="1486" r="5.4" fill="#000"/>
<circle cx="941" cy="1493" r="5.4" fill="#000"/>
<circle cx="1020" cy="1197" r="5.4" fill="#000"/>
<circle cx="1025.7" cy="1350.3" r="5.4" fill="#000"/>
<circle cx="1026.7" cy="1359" r="5.4" fill="#000"/>
<circle cx="1082" cy="1105" r="5.4" fill="#000"/>
<circle cx="1087.7" cy="1208.7" r="5.4" fill="#000"/>
<circle cx="1075.3" cy="1263.3" r="5.4" fill="#000"/>
<circle cx="1159" cy="1397" r="5.4" fill="#000"/>
<circle cx="1149" cy="1423.3" r="5.4" fill="#000"/>
<circle cx="1160" cy="1421.7" r="5.4" fill="#000"/>
<text x="372.75" y="1416.64" font-family='"DejaVu Sans", sans-serif' font-size="16.2" fill="#000" stroke="#000" stroke-width="0.35">*</text>
<text transform="translate(436.82 1384) scale(1.0000 1)" font-family='"DejaVu Sans", sans-serif' font-size="18.5" fill="#000" stroke="#000" stroke-width="0.3">ns</text>
<text x="503.75 513.95 524.15" y="1452.34" font-family='"DejaVu Sans", sans-serif' font-size="16.2" fill="#000" stroke="#000" stroke-width="0.35">***</text>
<text transform="translate(578.02 1391.7) scale(1.0000 1)" font-family='"DejaVu Sans", sans-serif' font-size="18.5" fill="#000" stroke="#000" stroke-width="0.3">ns</text>
<text transform="translate(648.62 1157.3) scale(1.0000 1)" font-family='"DejaVu Sans", sans-serif' font-size="18.5" fill="#000" stroke="#000" stroke-width="0.3">ns</text>
<text transform="translate(719.22 1419.3) scale(1.0000 1)" font-family='"DejaVu Sans", sans-serif' font-size="18.5" fill="#000" stroke="#000" stroke-width="0.3">ns</text>
<text transform="translate(789.82 1436) scale(1.0000 1)" font-family='"DejaVu Sans", sans-serif' font-size="18.5" fill="#000" stroke="#000" stroke-width="0.3">ns</text>
<text transform="translate(860.42 1213.3) scale(1.0000 1)" font-family='"DejaVu Sans", sans-serif' font-size="18.5" fill="#000" stroke="#000" stroke-width="0.3">ns</text>
<text x="922.25 932.45 942.65 952.85" y="1517.64" font-family='"DejaVu Sans", sans-serif' font-size="16.2" fill="#000" stroke="#000" stroke-width="0.35">****</text>
<text transform="translate(1001.62 1180.7) scale(1.0000 1)" font-family='"DejaVu Sans", sans-serif' font-size="18.5" fill="#000" stroke="#000" stroke-width="0.3">ns</text>
<text transform="translate(1072.22 1089.3) scale(1.0000 1)" font-family='"DejaVu Sans", sans-serif' font-size="18.5" fill="#000" stroke="#000" stroke-width="0.3">ns</text>
<text x="1144.25 1154.45" y="1452.34" font-family='"DejaVu Sans", sans-serif' font-size="16.2" fill="#000" stroke="#000" stroke-width="0.35">**</text>
<polyline points="263.9,1090.7 263.9,1556.5 1196.6,1556.5" fill="none" stroke="#000" stroke-width="2.8" stroke-linejoin="miter"/>
<line x1="256.5" y1="1146.25" x2="263.9" y2="1146.25" stroke="#000" stroke-width="2.5"/>
<text transform="translate(201.77 1155.45) scale(1.0000 1)" font-family='"Liberation Sans", sans-serif' font-size="29.1" fill="#000" stroke="#000" stroke-width="0.35">100</text>
<line x1="256.5" y1="1234.62" x2="263.9" y2="1234.62" stroke="#000" stroke-width="2.5"/>
<text transform="translate(217.99 1243.83) scale(1.0000 1)" font-family='"Liberation Sans", sans-serif' font-size="29.1" fill="#000" stroke="#000" stroke-width="0.35">50</text>
<line x1="256.5" y1="1323" x2="263.9" y2="1323" stroke="#000" stroke-width="2.5"/>
<text transform="translate(234.14 1332.2) scale(1.0000 1)" font-family='"Liberation Sans", sans-serif' font-size="29.1" fill="#000" stroke="#000" stroke-width="0.35">0</text>
<line x1="256.5" y1="1411.38" x2="263.9" y2="1411.38" stroke="#000" stroke-width="2.5"/>
<text transform="translate(208.24 1420.58) scale(1.0000 1)" font-family='"Liberation Sans", sans-serif' font-size="29.1" fill="#000" stroke="#000" stroke-width="0.35">-50</text>
<line x1="256.5" y1="1499.75" x2="263.9" y2="1499.75" stroke="#000" stroke-width="2.5"/>
<text transform="translate(192.09 1508.95) scale(1.0000 1)" font-family='"Liberation Sans", sans-serif' font-size="29.1" fill="#000" stroke="#000" stroke-width="0.35">-100</text>
<line x1="306.2" y1="1556.5" x2="306.2" y2="1563.4" stroke="#000" stroke-width="2.5"/>
<line x1="376.8" y1="1556.5" x2="376.8" y2="1563.4" stroke="#000" stroke-width="2.5"/>
<line x1="447.4" y1="1556.5" x2="447.4" y2="1563.4" stroke="#000" stroke-width="2.5"/>
<line x1="518" y1="1556.5" x2="518" y2="1563.4" stroke="#000" stroke-width="2.5"/>
<line x1="588.6" y1="1556.5" x2="588.6" y2="1563.4" stroke="#000" stroke-width="2.5"/>
<line x1="659.2" y1="1556.5" x2="659.2" y2="1563.4" stroke="#000" stroke-width="2.5"/>
<line x1="729.8" y1="1556.5" x2="729.8" y2="1563.4" stroke="#000" stroke-width="2.5"/>
<line x1="800.4" y1="1556.5" x2="800.4" y2="1563.4" stroke="#000" stroke-width="2.5"/>
<line x1="871" y1="1556.5" x2="871" y2="1563.4" stroke="#000" stroke-width="2.5"/>
<line x1="941.6" y1="1556.5" x2="941.6" y2="1563.4" stroke="#000" stroke-width="2.5"/>
<line x1="1012.2" y1="1556.5" x2="1012.2" y2="1563.4" stroke="#000" stroke-width="2.5"/>
<line x1="1082.8" y1="1556.5" x2="1082.8" y2="1563.4" stroke="#000" stroke-width="2.5"/>
<line x1="1153.4" y1="1556.5" x2="1153.4" y2="1563.4" stroke="#000" stroke-width="2.5"/>
<line x1="1273.65" y1="1323" x2="1324.95" y2="1323" stroke="#000" stroke-width="2.5"/>
<rect x="1345.65" y="1251.85" width="50.5" height="71.15" fill="#6a2b8e" stroke="#000" stroke-width="2.5"/>
<rect x="1417.25" y="1323" width="50.5" height="85.15" fill="#b3294e" stroke="#000" stroke-width="2.5"/>
<rect x="1488.85" y="1323" width="50.5" height="102.55" fill="#b3294e" stroke="#000" stroke-width="2.5"/>
<rect x="1560.45" y="1317.15" width="50.5" height="5.85" fill="#a184b4" stroke="#000" stroke-width="2.5"/>
<rect x="1632.05" y="1323" width="50.5" height="38.55" fill="#a184b4" stroke="#000" stroke-width="2.5"/>
<line x1="1299.33" y1="1308.67" x2="1299.33" y2="1337.33" stroke="#000" stroke-width="2.5"/>
<line x1="1295.93" y1="1308.67" x2="1302.73" y2="1308.67" stroke="#000" stroke-width="2.5"/>
<line x1="1295.93" y1="1337.33" x2="1302.73" y2="1337.33" stroke="#000" stroke-width="2.5"/>
<line x1="1371" y1="1193" x2="1371" y2="1310.67" stroke="#000" stroke-width="2.5"/>
<line x1="1367.6" y1="1193" x2="1374.4" y2="1193" stroke="#000" stroke-width="2.5"/>
<line x1="1367.6" y1="1310.67" x2="1374.4" y2="1310.67" stroke="#000" stroke-width="2.5"/>
<line x1="1442.67" y1="1394.33" x2="1442.67" y2="1422.33" stroke="#000" stroke-width="2.5"/>
<line x1="1439.27" y1="1394.33" x2="1446.07" y2="1394.33" stroke="#000" stroke-width="2.5"/>
<line x1="1439.27" y1="1422.33" x2="1446.07" y2="1422.33" stroke="#000" stroke-width="2.5"/>
<line x1="1514" y1="1415" x2="1514" y2="1435" stroke="#000" stroke-width="2.5"/>
<line x1="1510.6" y1="1415" x2="1517.4" y2="1415" stroke="#000" stroke-width="2.5"/>
<line x1="1510.6" y1="1435" x2="1517.4" y2="1435" stroke="#000" stroke-width="2.5"/>
<line x1="1585.67" y1="1252.67" x2="1585.67" y2="1382.33" stroke="#000" stroke-width="2.5"/>
<line x1="1582.27" y1="1252.67" x2="1589.07" y2="1252.67" stroke="#000" stroke-width="2.5"/>
<line x1="1582.27" y1="1382.33" x2="1589.07" y2="1382.33" stroke="#000" stroke-width="2.5"/>
<line x1="1657.33" y1="1320.67" x2="1657.33" y2="1402.67" stroke="#000" stroke-width="2.5"/>
<line x1="1653.93" y1="1320.67" x2="1660.73" y2="1320.67" stroke="#000" stroke-width="2.5"/>
<line x1="1653.93" y1="1402.67" x2="1660.73" y2="1402.67" stroke="#000" stroke-width="2.5"/>
<circle cx="1300.33" cy="1294.67" r="5.4" fill="#000"/>
<circle cx="1304.33" cy="1334" r="5.4" fill="#000"/>
<circle cx="1293.33" cy="1342" r="5.4" fill="#000"/>
<circle cx="1379.33" cy="1146.33" r="5.4" fill="#000"/>
<circle cx="1373" cy="1258.67" r="5.4" fill="#000"/>
<circle cx="1382.33" cy="1350.67" r="5.4" fill="#000"/>
<circle cx="1444.33" cy="1391.67" r="5.4" fill="#000"/>
<circle cx="1440" cy="1395" r="5.4" fill="#000"/>
<circle cx="1431" cy="1436.67" r="5.4" fill="#000"/>
<circle cx="1525.33" cy="1411.33" r="5.4" fill="#000"/>
<circle cx="1524.67" cy="1419.33" r="5.4" fill="#000"/>
<circle cx="1512.67" cy="1445" r="5.4" fill="#000"/>
<circle cx="1578.33" cy="1191" r="5.4" fill="#000"/>
<circle cx="1598.67" cy="1363" r="5.4" fill="#000"/>
<circle cx="1598.33" cy="1400.67" r="5.4" fill="#000"/>
<circle cx="1644" cy="1281.33" r="5.4" fill="#000"/>
<circle cx="1644" cy="1397.33" r="5.4" fill="#000"/>
<circle cx="1655.67" cy="1406" r="5.4" fill="#000"/>
<text transform="translate(1360.42 1126.67) scale(1.0000 1)" font-family='"DejaVu Sans", sans-serif' font-size="18.5" fill="#000" stroke="#000" stroke-width="0.3">ns</text>
<text x="1438.62" y="1461.28" font-family='"DejaVu Sans", sans-serif' font-size="16.2" fill="#000" stroke="#000" stroke-width="0.35">*</text>
<text x="1504.85 1515.05" y="1475.51" font-family='"DejaVu Sans", sans-serif' font-size="16.2" fill="#000" stroke="#000" stroke-width="0.35">**</text>
<text transform="translate(1575.09 1173.33) scale(1.0000 1)" font-family='"DejaVu Sans", sans-serif' font-size="18.5" fill="#000" stroke="#000" stroke-width="0.3">ns</text>
<text transform="translate(1646.76 1433.33) scale(1.0000 1)" font-family='"DejaVu Sans", sans-serif' font-size="18.5" fill="#000" stroke="#000" stroke-width="0.3">ns</text>
<polyline points="1256.9,1090.7 1256.9,1556.5 1700,1556.5" fill="none" stroke="#000" stroke-width="2.8" stroke-linejoin="miter"/>
<line x1="1249.5" y1="1146.25" x2="1256.9" y2="1146.25" stroke="#000" stroke-width="2.5"/>
<text transform="translate(1194.77 1155.45) scale(1.0000 1)" font-family='"Liberation Sans", sans-serif' font-size="29.1" fill="#000" stroke="#000" stroke-width="0.35">100</text>
<line x1="1249.5" y1="1234.62" x2="1256.9" y2="1234.62" stroke="#000" stroke-width="2.5"/>
<text transform="translate(1210.99 1243.83) scale(1.0000 1)" font-family='"Liberation Sans", sans-serif' font-size="29.1" fill="#000" stroke="#000" stroke-width="0.35">50</text>
<line x1="1249.5" y1="1323" x2="1256.9" y2="1323" stroke="#000" stroke-width="2.5"/>
<text transform="translate(1227.14 1332.2) scale(1.0000 1)" font-family='"Liberation Sans", sans-serif' font-size="29.1" fill="#000" stroke="#000" stroke-width="0.35">0</text>
<line x1="1249.5" y1="1411.38" x2="1256.9" y2="1411.38" stroke="#000" stroke-width="2.5"/>
<text transform="translate(1201.24 1420.58) scale(1.0000 1)" font-family='"Liberation Sans", sans-serif' font-size="29.1" fill="#000" stroke="#000" stroke-width="0.35">-50</text>
<line x1="1249.5" y1="1499.75" x2="1256.9" y2="1499.75" stroke="#000" stroke-width="2.5"/>
<text transform="translate(1185.09 1508.95) scale(1.0000 1)" font-family='"Liberation Sans", sans-serif' font-size="29.1" fill="#000" stroke="#000" stroke-width="0.35">-100</text>
<line x1="1299.3" y1="1556.5" x2="1299.3" y2="1563.4" stroke="#000" stroke-width="2.5"/>
<line x1="1370.9" y1="1556.5" x2="1370.9" y2="1563.4" stroke="#000" stroke-width="2.5"/>
<line x1="1442.5" y1="1556.5" x2="1442.5" y2="1563.4" stroke="#000" stroke-width="2.5"/>
<line x1="1514.1" y1="1556.5" x2="1514.1" y2="1563.4" stroke="#000" stroke-width="2.5"/>
<line x1="1585.7" y1="1556.5" x2="1585.7" y2="1563.4" stroke="#000" stroke-width="2.5"/>
<line x1="1657.3" y1="1556.5" x2="1657.3" y2="1563.4" stroke="#000" stroke-width="2.5"/>
<text transform="translate(1 87.8) scale(0.9579 1)" font-family='"Liberation Sans", sans-serif' font-weight="bold" font-size="67" fill="#000" stroke="#000" stroke-width="1.2" stroke-linejoin="round">A</text>
<text transform="translate(0.62 617.1) scale(0.8368 1)" font-family='"Liberation Sans", sans-serif' font-weight="bold" font-size="67" fill="#000" stroke="#000" stroke-width="1.2" stroke-linejoin="round">B</text>
<text transform="translate(1.16 1146.8) scale(0.7975 1)" font-family='"Liberation Sans", sans-serif' font-weight="bold" font-size="67" fill="#000" stroke="#000" stroke-width="1.2" stroke-linejoin="round">C</text>
<text transform="translate(2.81 1821.6) scale(0.9479 1)" font-family='"Liberation Sans", sans-serif' font-weight="bold" font-size="67" fill="#000" stroke="#000" stroke-width="1.2" stroke-linejoin="round">D</text>
<text transform="translate(186.3 480.9) rotate(-90) scale(1.0163 1)" font-family='"DejaVu Sans", sans-serif' font-size="37.5" fill="#000" xml:space="preserve"><tspan>% euphanes C20(</tspan><tspan font-style="italic">R</tspan><tspan>)</tspan></text>
<text transform="translate(193.2 940.62) rotate(-90) scale(1.0259 1)" font-family='"DejaVu Sans", sans-serif' font-size="37.5" fill="#000">% Δ7 isomers</text>
<text transform="translate(156.4 1491.08) rotate(-90) scale(1.0074 1)" font-family='"DejaVu Sans", sans-serif' font-size="37.5" fill="#000">% change in total</text>
<text transform="translate(193.4 1451.11) rotate(-90) scale(0.9841 1)" font-family='"DejaVu Sans", sans-serif' font-size="37.5" fill="#000">accumulation</text>
<text transform="translate(315.9 1675.88) rotate(-90) scale(0.9550 1)" font-family='"Liberation Sans", sans-serif' font-size="29.6" fill="#000" stroke-width="0.35" stroke="#000">F549WT</text>
<text transform="translate(386.5 1653.92) rotate(-90) scale(0.9550 1)" font-family='"Liberation Sans", sans-serif' font-size="29.6" fill="#6a2b8e" stroke-width="0.35" stroke="#6a2b8e">F549G</text>
<text transform="translate(457.1 1650.79) rotate(-90) scale(0.9550 1)" font-family='"Liberation Sans", sans-serif' font-size="29.6" fill="#6a2b8e" stroke-width="0.35" stroke="#6a2b8e">F549A</text>
<text transform="translate(527.7 1653.92) rotate(-90) scale(0.9550 1)" font-family='"Liberation Sans", sans-serif' font-size="29.6" fill="#6a2b8e" stroke-width="0.35" stroke="#6a2b8e">F549Q</text>
<text transform="translate(598.3 1639.79) rotate(-90) scale(0.9550 1)" font-family='"Liberation Sans", sans-serif' font-size="29.6" fill="#6a2b8e" stroke-width="0.35" stroke="#6a2b8e">F549I</text>
<text transform="translate(668.9 1650.79) rotate(-90) scale(0.9550 1)" font-family='"Liberation Sans", sans-serif' font-size="29.6" fill="#6a2b8e" stroke-width="0.35" stroke="#6a2b8e">F549Y</text>
<text transform="translate(739.5 1658.61) rotate(-90) scale(0.9550 1)" font-family='"Liberation Sans", sans-serif' font-size="29.6" fill="#6a2b8e" stroke-width="0.35" stroke="#6a2b8e">F549W</text>
<text transform="translate(810.1 1652.37) rotate(-90) scale(0.9550 1)" font-family='"Liberation Sans", sans-serif' font-size="29.6" fill="#e8341c" stroke-width="0.35" stroke="#e8341c">S724V</text>
<text transform="translate(880.7 1652.35) rotate(-90) scale(0.9550 1)" font-family='"Liberation Sans", sans-serif' font-size="29.6" fill="#3a5cf0" stroke-width="0.35" stroke="#3a5cf0">T561C</text>
<text transform="translate(951.3 1655.51) rotate(-90) scale(0.9550 1)" font-family='"Liberation Sans", sans-serif' font-size="29.6" fill="#3a5cf0" stroke-width="0.35" stroke="#3a5cf0">Y256G</text>
<text transform="translate(1021.9 1655.51) rotate(-90) scale(0.9550 1)" font-family='"Liberation Sans", sans-serif' font-size="29.6" fill="#3a5cf0" stroke-width="0.35" stroke="#3a5cf0">Y725G</text>
<text transform="translate(1092.5 1663.34) rotate(-90) scale(0.9550 1)" font-family='"Liberation Sans", sans-serif' font-size="29.6" fill="#3a5cf0" stroke-width="0.35" stroke="#3a5cf0">W216G</text>
<text transform="translate(1163.1 1663.34) rotate(-90) scale(0.9550 1)" font-family='"Liberation Sans", sans-serif' font-size="29.6" fill="#3a5cf0" stroke-width="0.35" stroke="#3a5cf0">W254G</text>
<text transform="translate(1309.4 1675.88) rotate(-90) scale(0.9550 1)" font-family='"Liberation Sans", sans-serif' font-size="29.6" fill="#000" stroke-width="0.35" stroke="#000">F549WT</text>
<text transform="translate(1379.4 1647.66) rotate(-90) scale(0.9550 1)" font-family='"Liberation Sans", sans-serif' font-size="29.6" fill="#6a2b8e" stroke-width="0.35" stroke="#6a2b8e">F549L</text>
<text transform="translate(1449.2 1742.54) rotate(-90) scale(0.9578 1)" font-family='"Liberation Sans", sans-serif' font-size="29.6" fill="#000" stroke-width="0.35" xml:space="preserve"><tspan fill="#6a2b8e" stroke="#6a2b8e">F549I</tspan><tspan fill="#000" stroke="#000">−</tspan><tspan fill="#e8341c" stroke="#e8341c">S724V</tspan></text>
<text transform="translate(1521.4 1752.16) rotate(-90) scale(0.9669 1)" font-family='"Liberation Sans", sans-serif' font-size="29.6" fill="#000" stroke-width="0.35" xml:space="preserve"><tspan fill="#6a2b8e" stroke="#6a2b8e">F549L</tspan><tspan fill="#000" stroke="#000">−</tspan><tspan fill="#e8341c" stroke="#e8341c">S724V</tspan></text>
<text transform="translate(1593.3 1738.14) rotate(-90) scale(0.9598 1)" font-family='"Liberation Sans", sans-serif' font-size="29.6" fill="#000" stroke-width="0.35" xml:space="preserve"><tspan fill="#6a2b8e" stroke="#6a2b8e">F549I</tspan><tspan fill="#000" stroke="#000">−</tspan><tspan fill="#808080" stroke="#808080">L548F</tspan></text>
<text transform="translate(1665.7 1747.77) rotate(-90) scale(0.9691 1)" font-family='"Liberation Sans", sans-serif' font-size="29.6" fill="#000" stroke-width="0.35" xml:space="preserve"><tspan fill="#6a2b8e" stroke="#6a2b8e">F549L</tspan><tspan fill="#000" stroke="#000">−</tspan><tspan fill="#808080" stroke="#808080">L548F</tspan></text>
<polyline points="492.4,1876.8 492.4,2468.8 1379.85,2468.8" fill="none" stroke="#000" stroke-width="4" stroke-linejoin="miter"/>
<line x1="481.4" y1="2468.8" x2="492.4" y2="2468.8" stroke="#000" stroke-width="4"/>
<text transform="translate(451.4 2483.8) scale(0.9750 1)" font-family='"Liberation Sans", sans-serif' font-weight="bold" font-size="47.8" fill="#000">0</text>
<line x1="481.4" y1="2350.8" x2="492.4" y2="2350.8" stroke="#000" stroke-width="4"/>
<text transform="translate(425.53 2365.8) scale(0.9750 1)" font-family='"Liberation Sans", sans-serif' font-weight="bold" font-size="47.8" fill="#000">20</text>
<line x1="481.4" y1="2232.8" x2="492.4" y2="2232.8" stroke="#000" stroke-width="4"/>
<text transform="translate(425.53 2247.8) scale(0.9750 1)" font-family='"Liberation Sans", sans-serif' font-weight="bold" font-size="47.8" fill="#000">40</text>
<line x1="481.4" y1="2114.8" x2="492.4" y2="2114.8" stroke="#000" stroke-width="4"/>
<text transform="translate(425.53 2129.8) scale(0.9750 1)" font-family='"Liberation Sans", sans-serif' font-weight="bold" font-size="47.8" fill="#000">60</text>
<line x1="481.4" y1="1996.8" x2="492.4" y2="1996.8" stroke="#000" stroke-width="4"/>
<text transform="translate(425.53 2011.8) scale(0.9750 1)" font-family='"Liberation Sans", sans-serif' font-weight="bold" font-size="47.8" fill="#000">80</text>
<line x1="481.4" y1="1878.8" x2="492.4" y2="1878.8" stroke="#000" stroke-width="4"/>
<text transform="translate(399.55 1893.8) scale(0.9750 1)" font-family='"Liberation Sans", sans-serif' font-weight="bold" font-size="47.8" fill="#000">100</text>
<line x1="492.4" y1="2468.8" x2="492.4" y2="2479.6" stroke="#000" stroke-width="4"/>
<text transform="translate(479.17 2526.3) scale(0.9750 1)" font-family='"Liberation Sans", sans-serif' font-weight="bold" font-size="47.8" fill="#000">0</text>
<line x1="787.55" y1="2468.8" x2="787.55" y2="2479.6" stroke="#000" stroke-width="4"/>
<text transform="translate(761.56 2526.3) scale(0.9750 1)" font-family='"Liberation Sans", sans-serif' font-weight="bold" font-size="47.8" fill="#000">50</text>
<line x1="1082.7" y1="2468.8" x2="1082.7" y2="2479.6" stroke="#000" stroke-width="4"/>
<text transform="translate(1043.02 2526.3) scale(0.9750 1)" font-family='"Liberation Sans", sans-serif' font-weight="bold" font-size="47.8" fill="#000">100</text>
<line x1="1377.85" y1="2468.8" x2="1377.85" y2="2479.6" stroke="#000" stroke-width="4"/>
<text transform="translate(1338.17 2526.3) scale(0.9750 1)" font-family='"Liberation Sans", sans-serif' font-weight="bold" font-size="47.8" fill="#000">150</text>
<text transform="translate(374.4 2325.93) rotate(-90) scale(0.9076 1)" font-family='"Liberation Sans", sans-serif' font-weight="bold" font-size="41" fill="#000" stroke="#000" stroke-width="0.6" xml:space="preserve"><tspan>% euphanes C20(</tspan><tspan font-weight="bold" font-style="italic">R</tspan><tspan>)</tspan></text>
<text transform="translate(546.37 2581.8) scale(1.0114 1)" font-family='"Liberation Sans", sans-serif' font-weight="bold" font-size="37" fill="#000" stroke="#000" stroke-width="0.6">Molar Volume of residue 549 (mL/mole)</text>
<line x1="704.9" y1="2236.5" x2="1281" y2="2006.9" stroke="#b0241a" stroke-width="11.8" stroke-dasharray="12 21.8"/>
<line x1="705.3" y1="2267.5" x2="705.3" y2="2284" stroke="#a9a9ab" stroke-width="4"/>
<line x1="705.3" y1="2267.5" x2="705.3" y2="2273.1" stroke="#a9a9ab" stroke-width="8"/>
<line x1="705.3" y1="2278.4" x2="705.3" y2="2284" stroke="#a9a9ab" stroke-width="8"/>
<circle cx="705.3" cy="2275" r="4.1" fill="#000"/>
<text transform="translate(714.93 2289.7) scale(0.9952 1)" font-family='"Liberation Sans", sans-serif' font-weight="bold" font-size="47" fill="#3b1761">Gly</text>
<line x1="806.5" y1="2042" x2="806.5" y2="2052.4" stroke="#a9a9ab" stroke-width="8"/>
<circle cx="806.5" cy="2047" r="4.1" fill="#000"/>
<text transform="translate(815.17 2061.2) scale(0.9645 1)" font-family='"Liberation Sans", sans-serif' font-weight="bold" font-size="47" fill="#3b1761">Ala</text>
<line x1="1002" y1="2294.5" x2="1002" y2="2323" stroke="#a9a9ab" stroke-width="4"/>
<line x1="1002" y1="2294.5" x2="1002" y2="2300.1" stroke="#a9a9ab" stroke-width="8"/>
<line x1="1002" y1="2317.4" x2="1002" y2="2323" stroke="#a9a9ab" stroke-width="8"/>
<circle cx="1002" cy="2308.5" r="4.1" fill="#000"/>
<text transform="translate(1010.92 2323.2) scale(0.9993 1)" font-family='"Liberation Sans", sans-serif' font-weight="bold" font-size="47" fill="#3b1761">Gln</text>
<line x1="1083.5" y1="2055" x2="1083.5" y2="2080" stroke="#a9a9ab" stroke-width="4"/>
<line x1="1083.5" y1="2055" x2="1083.5" y2="2060.6" stroke="#a9a9ab" stroke-width="8"/>
<line x1="1083.5" y1="2074.4" x2="1083.5" y2="2080" stroke="#a9a9ab" stroke-width="8"/>
<circle cx="1083.5" cy="2067.5" r="4.1" fill="#000"/>
<text transform="translate(1092.09 2081.2) scale(1.0112 1)" font-family='"Liberation Sans", sans-serif' font-weight="bold" font-size="47" fill="#3b1761">Ile</text>
<line x1="1165" y1="2061.5" x2="1165" y2="2078.5" stroke="#a9a9ab" stroke-width="4"/>
<line x1="1165" y1="2061.5" x2="1165" y2="2067.1" stroke="#a9a9ab" stroke-width="8"/>
<line x1="1165" y1="2072.9" x2="1165" y2="2078.5" stroke="#a9a9ab" stroke-width="8"/>
<circle cx="1165" cy="2070" r="4.1" fill="#000"/>
<text transform="translate(1173.09 2083.7) scale(1.0132 1)" font-family='"Liberation Sans", sans-serif' font-weight="bold" font-size="47" fill="#3b1761">Phe</text>
<line x1="1178.5" y1="1989" x2="1178.5" y2="2001" stroke="#a9a9ab" stroke-width="8"/>
<circle cx="1178.5" cy="1994.5" r="4.1" fill="#000"/>
<text transform="translate(1188.69 2008.2) scale(1.0309 1)" font-family='"Liberation Sans", sans-serif' font-weight="bold" font-size="47" fill="#3b1761">Tyr</text>
<line x1="1299.5" y1="1954" x2="1299.5" y2="1980" stroke="#a9a9ab" stroke-width="4"/>
<line x1="1299.5" y1="1954" x2="1299.5" y2="1959.6" stroke="#a9a9ab" stroke-width="8"/>
<line x1="1299.5" y1="1974.4" x2="1299.5" y2="1980" stroke="#a9a9ab" stroke-width="8"/>
<circle cx="1299.5" cy="1966.5" r="4.1" fill="#000"/>
<text transform="translate(1309.69 1980.7) scale(1.0323 1)" font-family='"Liberation Sans", sans-serif' font-weight="bold" font-size="47" fill="#3b1761">Trp</text>
</svg>
</body></html>
